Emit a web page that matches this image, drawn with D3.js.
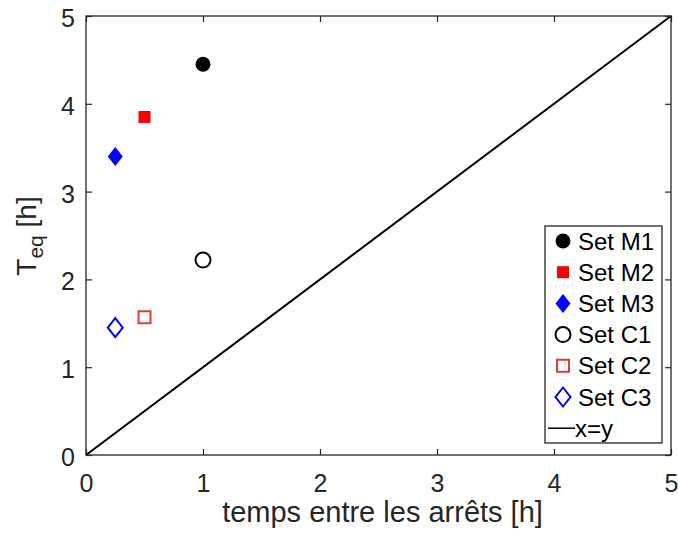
<!DOCTYPE html>
<html><head><meta charset="utf-8">
<script src="https://cdn.jsdelivr.net/npm/d3@7"></script>
<style>body{margin:0;background:#fff;} text{font-family:"Liberation Sans",Arial,sans-serif;}</style>
</head><body>
<svg id="chart" width="678" height="539"></svg>
<script>
const seriesNames = ["Set M1","Set M2","Set M3","Set C1","Set C2","Set C3"];
const seriesX = [1, 0.5, 0.25, 1, 0.5, 0.25];
const seriesY = [4.45, 3.85, 3.4, 2.22, 1.57, 1.45];
const seriesShape = ["circle","square","diamond","circle","square","diamond"];
const seriesColor = ["#000000","#ff0000","#0000ff","#000000","#e8383a","#0000ff"];
const seriesFilled = [true,true,true,false,false,false];
const xTicks = [0,1,2,3,4,5];
const yTicks = [0,1,2,3,4,5];
const lineData = [[0,0],[5,5]];

const svg = d3.select("#chart");
const m = {l:86, r:7, t:16, b:84};
const W = 678, H = 539;
const x = d3.scaleLinear().domain([0,5]).range([m.l, W-m.r]);
const y = d3.scaleLinear().domain([0,5]).range([H-m.b, m.t]);
const axisColor = "#262626";

// diagonal
svg.append("path").attr("d", d3.line().x(d=>x(d[0])).y(d=>y(d[1]))(lineData))
  .attr("stroke","#000").attr("stroke-width",2).attr("fill","none");

function styleAxis(g){
  g.select(".domain").remove();
  g.selectAll(".tick line").attr("stroke",axisColor).attr("stroke-width",1.2);
  g.selectAll(".tick text").attr("fill","#262626").style("font-size","25px");
}
// bottom
svg.append("g").attr("transform",`translate(0,${y(0)})`)
  .call(d3.axisBottom(x).tickValues(xTicks).tickFormat(d3.format("d")).tickSizeInner(-6).tickPadding(19))
  .call(styleAxis);
// top
svg.append("g").attr("transform",`translate(0,${y(5)})`)
  .call(d3.axisTop(x).tickValues(xTicks).tickFormat("").tickSizeInner(-6))
  .call(styleAxis);
// left
svg.append("g").attr("transform",`translate(${x(0)},0)`)
  .call(d3.axisLeft(y).tickValues(yTicks).tickFormat(d3.format("d")).tickSizeInner(-6).tickPadding(11))
  .call(styleAxis)
  .call(g=>g.selectAll(".tick text").attr("dy","0.42em"));
// right
svg.append("g").attr("transform",`translate(${x(5)},0)`)
  .call(d3.axisRight(y).tickValues(yTicks).tickFormat("").tickSizeInner(-6))
  .call(styleAxis);
// box
svg.append("rect").attr("x",x(0)).attr("y",y(5)).attr("width",x(5)-x(0)).attr("height",y(0)-y(5))
  .attr("fill","none").attr("stroke",axisColor).attr("stroke-width",1.3);

function shapePath(s){
  if (s==="circle") return d3.symbol().type(d3.symbolCircle).size(Math.PI*7.5*7.5)();
  if (s==="square") return "M-6,-6H6V6H-6Z";
  return "M0,-9.5L7.5,0L0,9.5L-7.5,0Z";
}
function marker(g, i, cx, cy){
  const s = seriesShape[i];
  const p = g.append("path").attr("d", shapePath(s)).attr("transform", `translate(${cx},${cy})`);
  if (seriesFilled[i]) p.attr("fill",seriesColor[i]).attr("stroke","none");
  else p.attr("fill","none").attr("stroke",seriesColor[i]).attr("stroke-width",2);
}
seriesNames.forEach((n,i)=>marker(svg, i, x(seriesX[i]), y(seriesY[i])));

// legend
const lg = svg.append("g");
lg.append("rect").attr("x",545).attr("y",226).attr("width",117).attr("height",217)
  .attr("fill","#fff").attr("stroke",axisColor).attr("stroke-width",1.3);
const rowY = i => 241 + i*31.2;
seriesNames.forEach((n,i)=>{
  marker(lg, i, 563, rowY(i));
  lg.append("text").attr("x",578).attr("y",rowY(i)).attr("dy","0.36em")
    .style("font-size","24px").attr("fill","#000").text(n);
});
lg.append("line").attr("x1",548).attr("x2",575).attr("y1",rowY(6)).attr("y2",rowY(6))
  .attr("stroke","#000").attr("stroke-width",1.5);
lg.append("text").attr("x",575).attr("y",rowY(6)).attr("dy","0.36em")
  .style("font-size","24px").attr("fill","#000").text("x=y");

// axis labels
svg.append("text").attr("x",(x(0)+x(5))/2+4).attr("y",522).attr("text-anchor","middle")
  .style("font-size","29px").attr("fill","#262626").text("temps entre les arrêts [h]");
const yl = svg.append("text").attr("transform",`translate(36,236) rotate(-90)`)
  .attr("text-anchor","middle").style("font-size","28px").attr("fill","#262626");
yl.append("tspan").text("T");
yl.append("tspan").attr("dy","7").style("font-size","21px").text("eq");
yl.append("tspan").attr("dy","-7").text(" [h]");
</script>
</body></html>
